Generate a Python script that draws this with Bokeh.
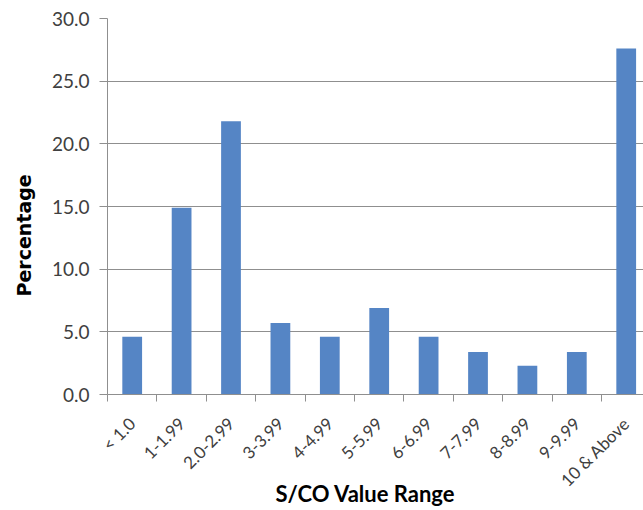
import math
from bokeh.plotting import figure
from bokeh.models import Range1d, FixedTicker, NumeralTickFormatter, Title
from bokeh.embed import file_html
from bokeh.resources import INLINE

# Distribution of samples over S/CO value ranges (percent of total)
categories = ["< 1.0", "1-1.99", "2.0-2.99", "3-3.99", "4-4.99", "5-5.99",
              "6-6.99", "7-7.99", "8-8.99", "9-9.99", "10 & Above"]
percentages = [4.6, 14.9, 21.8, 5.7, 4.6, 6.9, 4.6, 3.4, 2.3, 3.4, 27.6]
y_ticks = [0, 5, 10, 15, 20, 25, 30]

FONT = "Lato"
GRID = "#8f8f8f"
TEXT = "#404040"
BAR = "#5585C5"

n = len(categories)
centers = [i + 0.5 for i in range(n)]
bounds = list(range(n + 1))

p = figure(width=643, height=510, output_backend="svg", toolbar_location=None,
           x_range=Range1d(0, 10.85), y_range=Range1d(0, 30),
           min_border_left=107, min_border_right=0, min_border_top=18,
           min_border_bottom=116)
p.outline_line_color = None
p.background_fill_color = "white"
p.border_fill_color = "white"

p.vbar(x=centers, top=percentages, width=0.4, fill_color=BAR, line_color=None)

# x axis: labels at category centers, tick marks between categories
xa = p.xaxis[0]
xa.ticker = FixedTicker(ticks=centers, minor_ticks=bounds)
xa.major_label_overrides = {c: lab for c, lab in zip(centers, categories)}
xa.major_label_orientation = math.pi / 4
xa.major_tick_out = 0
xa.major_tick_in = 0
xa.minor_tick_out = 7
xa.minor_tick_in = 0
xa.minor_tick_line_color = GRID
xa.axis_line_color = GRID
xa.major_label_text_font = FONT
xa.major_label_text_font_size = "17px"
xa.major_label_text_color = TEXT
xa.major_label_standoff = 19

ya = p.yaxis[0]
ya.ticker = FixedTicker(ticks=y_ticks, minor_ticks=[])
ya.formatter = NumeralTickFormatter(format="0.0")
ya.major_tick_out = 8
ya.major_tick_in = 0
ya.major_tick_line_color = GRID
ya.axis_line_color = GRID
ya.major_label_text_font = FONT
ya.major_label_text_font_size = "19px"
ya.major_label_text_color = TEXT
ya.major_label_standoff = 10

p.xgrid.grid_line_color = None
p.ygrid.grid_line_color = GRID
p.ygrid.grid_line_width = 1

# axis titles as side titles so they can be shifted along the axes
p.add_layout(Title(text="S/CO Value Range", align="left", offset=168,
                   vertical_align="top",
                   text_font=FONT, text_font_style="bold",
                   text_font_size="22px", text_color="black",
                   standoff=-42), "below")
p.add_layout(Title(text="Percentage", align="left", offset=98,
                   vertical_align="top",
                   text_font="DejaVu Sans", text_font_style="bold",
                   text_font_size="19px", text_color="black",
                   standoff=24), "left")

open("out.html", "w").write(file_html(p, INLINE))
